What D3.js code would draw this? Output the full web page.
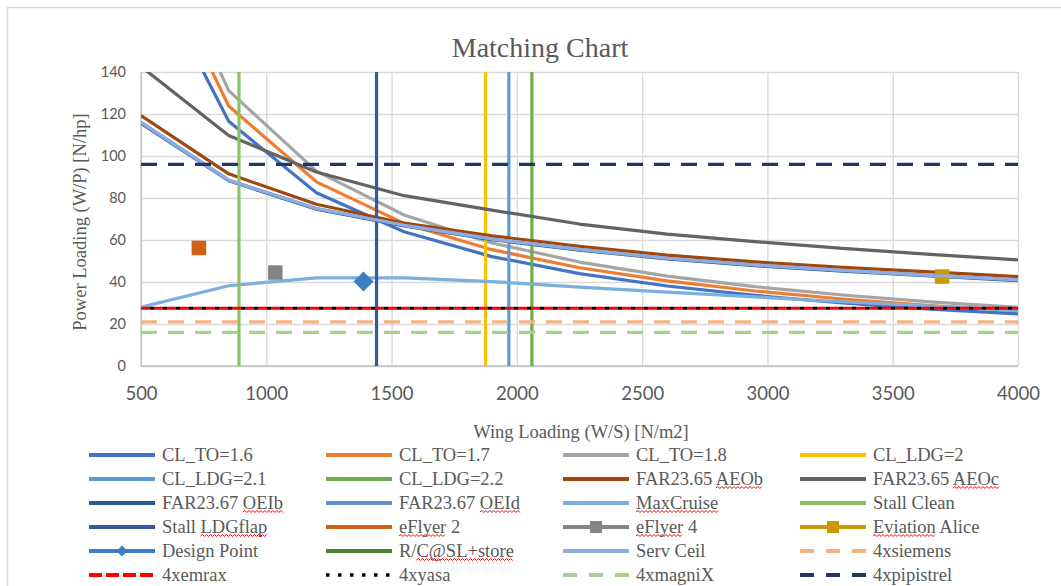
<!DOCTYPE html>
<html>
<head>
<meta charset="utf-8">
<script src="https://cdn.jsdelivr.net/npm/d3@7"></script>
<style>
  body { margin: 0; background: #fff; }
  svg text { fill: #595959; }
  .serif { font-family: "Liberation Serif", "DejaVu Serif", serif; }
</style>
</head>
<body>
<svg id="chart" width="1061" height="586"></svg>
<script>
// wing loading samples (N/m2) used by the constraint curves
const wingLoading = [500, 850, 1200, 1550, 1900, 2250, 2600, 2950, 3300, 3650, 4000];

// power loading (N/hp)
const clTo16 = [198.0, 116.5, 82.5, 63.9, 52.1, 44.0, 38.1, 33.6, 30.0, 27.1, 24.8];
const clTo17 = [210.4, 123.8, 87.7, 67.9, 55.4, 46.8, 40.5, 35.7, 31.9, 28.8, 26.3];
const clTo18 = [222.8, 131.1, 92.8, 71.9, 58.6, 49.5, 42.8, 37.8, 33.8, 30.5, 27.9];
const aeoB = [119.2, 91.5, 77.0, 68.0, 62.0, 57.0, 52.8, 49.6, 47.0, 44.8, 42.6];
const aeoC = [142.6, 109.8, 92.4, 81.1, 74.2, 67.6, 62.8, 59.2, 56.0, 53.2, 50.5];
const oeiB = [115.6, 88.2, 74.7, 66.7, 60.2, 55.2, 51.0, 47.8, 45.2, 42.9, 40.7];
const oeiD = [116.0, 88.5, 75.0, 67.0, 60.5, 55.5, 51.3, 48.1, 45.5, 43.2, 41.0];
const maxCruise = [28.0, 38.2, 42.0, 42.0, 40.2, 37.6, 35.2, 32.9, 30.6, 28.5, 26.5];
const servCeil = [116.0, 88.5, 75.0, 67.0, 60.5, 55.5, 51.3, 48.1, 45.5, 43.2, 41.0];
const rcStore = [];

// vertical limits (wing loading)
const clLdg20 = 1875;
const clLdg21 = 1968;
const clLdg22 = 2060;
const stallClean = 891;
const stallLdgFlap = 1440;

// single aircraft points [W/S, W/P]
const eFlyer2 = [731, 56.2];
const eFlyer4 = [1036, 44.5];
const eviationAlice = [3697, 42.6];
const designPoint = [1388, 40.2];

// motor power loading lines
const siemens = 21.0;
const emrax = 27.5;
const yasa = 27.5;
const magniX = 16.0;
const pipistrel = 96.0;

const xTicks = [500, 1000, 1500, 2000, 2500, 3000, 3500, 4000];
const yTicks = [0, 20, 40, 60, 80, 100, 120, 140];

const curve = (name, values, color) => ({ name, kind: 'curve', values, color });
const vline = (name, value, color) => ({ name, kind: 'v', value, color });
const hline = (name, value, color, dash) => ({ name, kind: 'h', value, color, dash });
const point = (name, value, color, marker, inLegend) => ({ name, kind: 'point', value, color, marker, inLegend });

const series = [
  curve('CL_TO=1.6', clTo16, '#4472C4'),
  curve('CL_TO=1.7', clTo17, '#ED7D31'),
  curve('CL_TO=1.8', clTo18, '#A5A5A5'),
  vline('CL_LDG=2', clLdg20, '#FFC000'),
  vline('CL_LDG=2.1', clLdg21, '#5B9BD5'),
  vline('CL_LDG=2.2', clLdg22, '#70AD47'),
  curve('FAR23.65 AEOb', aeoB, '#9E480E'),
  curve('FAR23.65 AEOc', aeoC, '#636363'),
  curve('FAR23.67 OEIb', oeiB, '#255E91'),
  curve('FAR23.67 OEId', oeiD, '#698ED0'),
  curve('MaxCruise', maxCruise, '#7CAFDD'),
  vline('Stall Clean', stallClean, '#8CC168'),
  vline('Stall LDGflap', stallLdgFlap, '#335AA1'),
  point('eFlyer 2', eFlyer2, '#D26012', 'square', false),
  point('eFlyer 4', eFlyer4, '#848484', 'square', true),
  point('Eviation Alice', eviationAlice, '#CC9A00', 'square', true),
  point('Design Point', designPoint, '#3C7DC4', 'diamond', true),
  curve('R/C@SL+store', rcStore, '#507E32'),
  curve('Serv Ceil', servCeil, '#8FAADC'),
  hline('4xsiemens', siemens, '#F4B183', '16 11'),
  hline('4xemrax', emrax, '#FF0000', '9 4'),
  hline('4xyasa', yasa, '#000000', '4 9'),
  hline('4xmagniX', magniX, '#A9D18E', '16 11'),
  hline('4xpipistrel', pipistrel, '#203864', '16 11'),
];

// spell-check underlines seen in the legend
const squiggles = {
  'FAR23.65 AEOb': 'AEOb', 'FAR23.65 AEOc': 'AEOc',
  'FAR23.67 OEIb': 'OEIb', 'FAR23.67 OEId': 'OEId',
  'MaxCruise': 'MaxCruise', 'Stall LDGflap': 'LDGflap',
  'eFlyer 2': 'eFlyer', 'eFlyer 4': 'eFlyer',
  'Eviation Alice': 'Eviation', 'R/C@SL+store': 'C@SL+store',
};

const plot = { left: 141, right: 1018, top: 72, bottom: 366 };
const x = d3.scaleLinear().domain([500, 4000]).range([plot.left, plot.right]);
const y = d3.scaleLinear().domain([0, 140]).range([plot.bottom, plot.top]);

const svg = d3.select('#chart');

// chart frame
svg.append('rect')
  .attr('x', 7.5).attr('y', 7.5)
  .attr('width', 1100).attr('height', 620)
  .attr('fill', '#fff')
  .attr('stroke', '#D9D9D9')
  .attr('stroke-width', 1.5);

svg.append('text')
  .attr('class', 'serif')
  .attr('x', 540).attr('y', 57)
  .attr('text-anchor', 'middle')
  .style('font-size', '28px')
  .text('Matching Chart');

// gridlines
svg.append('g')
  .attr('transform', `translate(0,${plot.top})`)
  .call(d3.axisBottom(x).tickValues(xTicks).tickSize(plot.bottom - plot.top).tickFormat(''))
  .call(g => g.select('.domain').remove())
  .selectAll('line').attr('stroke', '#D9D9D9').attr('stroke-width', 1.3);

svg.append('g')
  .attr('transform', `translate(${plot.left},0)`)
  .call(d3.axisRight(y).tickValues(yTicks).tickSize(plot.right - plot.left).tickFormat(''))
  .call(g => g.select('.domain').remove())
  .selectAll('line').attr('stroke', '#D9D9D9').attr('stroke-width', 1.3);

// axis lines
svg.append('line')
  .attr('x1', plot.left).attr('x2', plot.right)
  .attr('y1', plot.bottom).attr('y2', plot.bottom)
  .attr('stroke', '#BFBFBF').attr('stroke-width', 1.3);
svg.append('line')
  .attr('x1', plot.left).attr('x2', plot.left)
  .attr('y1', plot.top).attr('y2', plot.bottom)
  .attr('stroke', '#BFBFBF').attr('stroke-width', 1.3);

// tick labels
svg.append('g')
  .attr('transform', `translate(0,${plot.bottom})`)
  .call(d3.axisBottom(x).tickValues(xTicks).tickSize(0).tickPadding(21).tickFormat(d3.format('d')))
  .call(g => g.select('.domain').remove())
  .attr('font-family', 'Lato, "Liberation Sans", sans-serif')
  .attr('font-size', 18.5);

svg.append('g')
  .attr('transform', `translate(${plot.left},0)`)
  .call(d3.axisLeft(y).tickValues(yTicks).tickSize(0).tickPadding(15).tickFormat(d3.format('d')))
  .call(g => g.select('.domain').remove())
  .attr('font-family', 'Lato, "Liberation Sans", sans-serif')
  .attr('font-size', 14.5);

// axis titles
svg.append('text')
  .attr('class', 'serif')
  .attr('x', 581).attr('y', 438)
  .attr('text-anchor', 'middle')
  .style('font-size', '18.5px')
  .text('Wing Loading (W/S) [N/m2]');

svg.append('text')
  .attr('class', 'serif')
  .attr('transform', 'translate(86,222) rotate(-90)')
  .attr('text-anchor', 'middle')
  .style('font-size', '18.5px')
  .text('Power Loading (W/P) [N/hp]');

// plot marks
svg.append('clipPath').attr('id', 'plot-clip')
  .append('rect')
  .attr('x', plot.left).attr('y', plot.top)
  .attr('width', plot.right - plot.left).attr('height', plot.bottom - plot.top);

const marks = svg.append('g').attr('clip-path', 'url(#plot-clip)');
const line = d3.line().x(d => x(d[0])).y(d => y(d[1]));

function drawMarker(g, type, cx, cy, size, color) {
  if (type === 'square') {
    g.append('rect')
      .attr('x', cx - size / 2).attr('y', cy - size / 2)
      .attr('width', size).attr('height', size)
      .attr('fill', color);
  } else {
    const h = size / 2;
    g.append('path')
      .attr('d', `M${cx},${cy - h}L${cx + h},${cy}L${cx},${cy + h}L${cx - h},${cy}Z`)
      .attr('fill', color);
  }
}

series.forEach(s => {
  let pts = null;
  if (s.kind === 'curve') pts = s.values.map((v, i) => [wingLoading[i], v]);
  if (s.kind === 'v') pts = [[s.value, 0], [s.value, 140]];
  if (s.kind === 'h') pts = [[500, s.value], [4000, s.value]];
  if (pts && pts.length) {
    const p = marks.append('path')
      .attr('d', line(pts))
      .attr('fill', 'none')
      .attr('stroke', s.color)
      .attr('stroke-width', 3.2)
      .attr('stroke-linejoin', 'round');
    if (s.dash) p.attr('stroke-dasharray', s.dash);
    if (s.name === '4xyasa') p.attr('stroke-dashoffset', -9);
  }
  if (s.kind === 'point') {
    drawMarker(marks, s.marker, x(s.value[0]), y(s.value[1]),
      s.marker === 'square' ? 14.5 : 20, s.color);
  }
});

// legend
const legend = svg.append('g');
const colX = [89, 326, 563, 800];
const rowY = [455, 479, 503, 527, 551, 575];

series.forEach((s, i) => {
  const lx = colX[i % 4];
  const ly = rowY[Math.floor(i / 4)];
  const item = legend.append('g');
  const ln = item.append('line')
    .attr('x1', lx).attr('x2', lx + 66)
    .attr('y1', ly).attr('y2', ly)
    .attr('stroke', s.color)
    .attr('stroke-width', s.name === '4xyasa' ? 3.5 : 4);
  if (s.name === '4xyasa') ln.attr('stroke-dasharray', '3.5 8.5');
  else if (s.name === '4xemrax') ln.attr('stroke-dasharray', '13 4');
  else if (s.dash) ln.attr('stroke-dasharray', '14 12');
  if (s.kind === 'point' && s.inLegend) {
    drawMarker(item, s.marker, lx + 33, ly, s.marker === 'square' ? 12 : 11, s.color);
  }
  const t = item.append('text')
    .attr('class', 'serif')
    .attr('x', lx + 73).attr('y', ly + 6)
    .style('font-size', '18.5px')
    .text(s.name);
  const word = squiggles[s.name];
  if (word) {
    const node = t.node();
    const idx = s.name.indexOf(word);
    const x0 = lx + 73 + node.getSubStringLength(0, idx);
    const x1 = x0 + node.getSubStringLength(idx, word.length);
    let d = `M${x0},${ly + 9}`;
    let up = true;
    for (let xx = x0 + 2; xx <= x1; xx += 2) {
      d += `L${xx},${ly + (up ? 7.5 : 9.5)}`;
      up = !up;
    }
    item.append('path')
      .attr('d', d)
      .attr('fill', 'none')
      .attr('stroke', '#FF0000')
      .attr('stroke-width', 1);
  }
});
</script>
</body>
</html>
